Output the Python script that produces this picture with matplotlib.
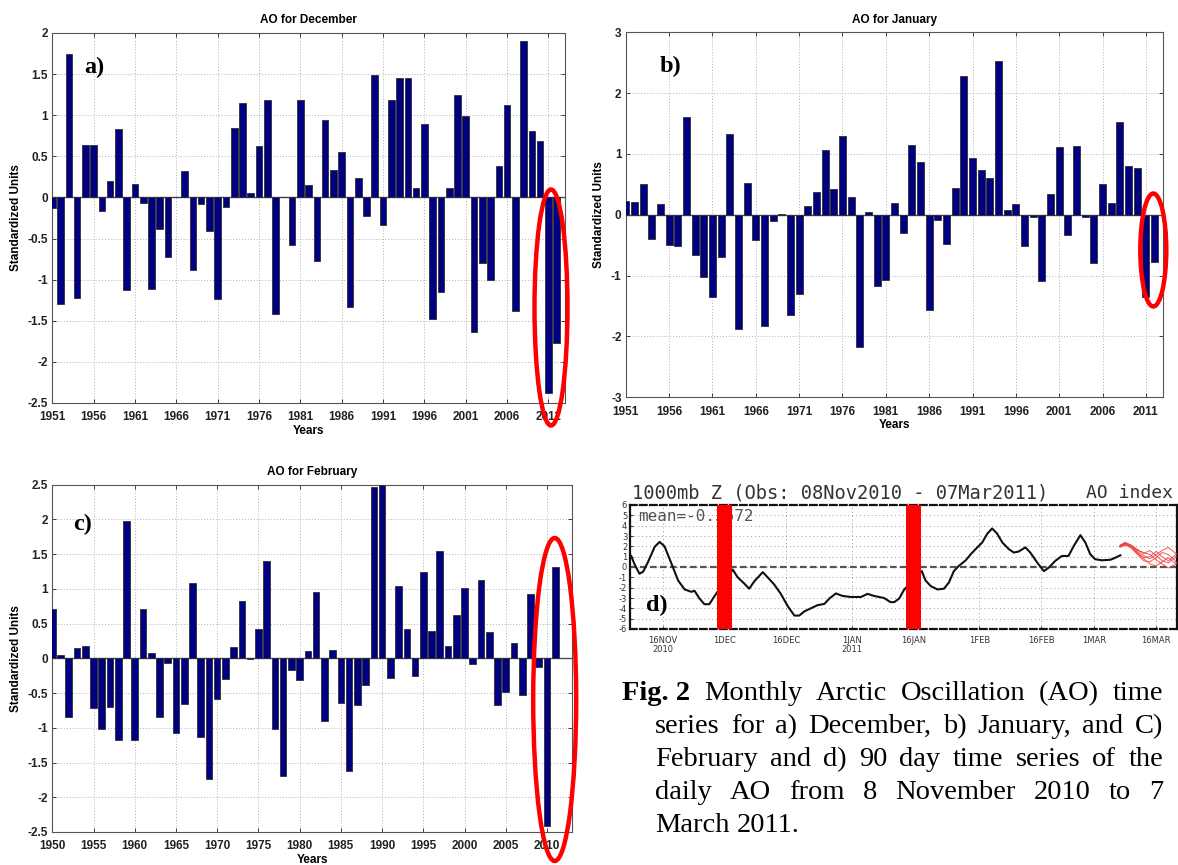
import numpy as np
import pandas as pd
import matplotlib
matplotlib.use('Agg')
import matplotlib.pyplot as plt
from matplotlib.patches import Ellipse
from matplotlib.transforms import IdentityTransform

W, H = 1178, 865
plt.rcParams['font.family'] = 'Liberation Sans'
plt.rcParams['axes.unicode_minus'] = False

# monthly AO index
dec_years = list(range(1951, 2013))
dec_vals = [-0.13, -1.30, 1.74, -1.22, 0.64, 0.64, -0.16, 0.20, 0.83, -1.13,
            0.16, -0.07, -1.11, -0.38, -0.73, 0.00, 0.32, -0.88, -0.08, -0.41,
            -1.24, -0.12, 0.84, 1.15, 0.05, 0.63, 1.19, -1.42, 0.00, -0.58,
            1.19, 0.15, -0.77, 0.94, 0.33, 0.55, -1.33, 0.24, -0.23, 1.49,
            -0.34, 1.19, 1.45, 1.45, 0.11, 0.89, -1.48, -1.15, 0.12, 1.24,
            0.99, -1.64, -0.80, -1.01, 0.38, 1.12, -1.38, 1.90, 0.81, 0.69,
            -2.38, -1.77]

jan_years = list(range(1951, 2013))
jan_vals = [0.23, 0.21, 0.51, -0.39, 0.17, -0.50, -0.51, 1.60, -0.66, -1.03,
            -1.35, -0.70, 1.32, -1.88, 0.52, -0.41, -1.83, -0.10, 0.02, -1.65,
            -1.30, 0.15, 0.38, 1.07, 0.42, 1.30, 0.29, -2.17, 0.04, -1.17,
            -1.07, 0.19, -0.30, 1.15, 0.86, -1.56, -0.09, -0.48, 0.44, 2.28,
            0.93, 0.74, 0.61, 2.53, 0.08, 0.17, -0.51, -0.04, -1.08, 0.34,
            1.11, -0.33, 1.13, -0.04, -0.79, 0.51, 0.19, 1.53, 0.80, 0.77,
            -1.35, -0.77]

feb_years = list(range(1950, 2012))
feb_vals = [0.71, 0.05, -0.84, 0.15, 0.18, -0.71, -1.02, -0.70, -1.18, 1.98,
            -1.18, 0.71, 0.07, -0.84, -0.07, -1.07, -0.66, 1.08, -1.13, -1.74,
            -0.58, -0.30, 0.17, 0.83, -0.01, 0.42, 1.40, -1.02, -1.70, -0.17,
            -0.31, 0.10, 0.95, -0.90, 0.12, -0.64, -1.62, -0.67, -0.39, 2.46,
            2.50, -0.28, 1.04, 0.42, -0.26, 1.24, 0.40, 1.55, 0.18, 0.63,
            1.01, -0.08, 1.13, 0.38, -0.67, -0.49, 0.22, -0.53, 0.92, -0.12,
            -2.41, 1.31]

# daily AO, days after 08 Nov 2010
ao_days = [0.3, 1.1, 2.3, 3.2, 4.4, 6.0, 7.2, 8.4, 10.0, 11.7, 13.3, 14.9, 15.7,
           16.9, 18.1, 19.3, 20.6, 25.0, 26.2, 27.8, 29.0, 30.3, 32.3, 33.5,
           35.1, 36.7, 38.4, 40.0, 41.2, 42.4, 44.0, 45.6, 47.3, 48.5, 50.1,
           51.7, 53.7, 56.2, 57.8, 59.4, 61.8, 63.4, 64.3, 65.5, 66.7, 71.0,
           71.9, 73.2, 74.8, 76.4, 77.6, 78.8, 80.0, 81.7, 82.9, 84.5, 85.7,
           86.9, 88.1, 89.3, 90.6, 92.2, 93.4, 94.6, 96.2, 97.4, 99.1, 100.7,
           101.9, 103.5, 105.1, 106.7, 108.0, 109.6, 110.8, 112.0, 113.2,
           114.8, 116.9, 118.1, 119.3]
ao_vals = [1.07, 0.26, -0.65, -0.45, 0.5, 1.95, 2.43, 2.0, 0.42, -1.3, -2.17,
           -2.4, -2.3, -3.05, -3.6, -3.6, -2.8, -0.25, -1.0, -1.6, -2.1, -1.36,
           -0.5, -1.0, -1.7, -2.6, -3.8, -4.7, -4.7, -4.3, -4.0, -3.7, -3.57,
           -3.05, -2.56, -2.8, -2.9, -2.9, -2.6, -2.8, -3.0, -3.4, -3.4, -3.05,
           -2.2, -0.4, -1.3, -1.85, -2.17, -2.1, -1.5, -0.4, 0.1, 0.65, 1.23,
           1.9, 2.37, 3.2, 3.73, 3.25, 2.37, 1.72, 1.4, 1.5, 1.9, 1.4, 0.42,
           -0.4, -0.06, 0.6, 1.07, 1.07, 2.05, 3.08, 2.37, 1.23, 0.75, 0.65,
           0.7, 0.9, 1.13]

# forecast members (red)
fc_days = [119.2, 120.5, 122.0, 123.5, 125.0, 126.5, 128.0, 129.5, 131.0, 132.5, 134.0]
fc_members = [
    [2.0, 2.3, 2.1, 1.5, 1.1, 0.8, 1.2, 1.6, 1.9, 1.4, 1.0],
    [2.0, 2.2, 1.9, 1.3, 0.8, 0.3, 0.1, 0.5, 0.9, 0.4, 0.2],
    [2.1, 2.3, 2.0, 1.6, 1.4, 1.2, 0.7, 0.3, -0.1, 0.2, 0.6],
    [1.9, 2.1, 2.0, 1.4, 0.9, 1.0, 1.5, 1.0, 0.6, 1.1, 1.5],
    [2.0, 2.2, 1.8, 1.2, 0.6, 0.5, 0.9, 1.4, 1.2, 0.7, -0.2],
    [2.1, 2.4, 2.1, 1.7, 1.3, 1.6, 1.1, 0.6, 0.4, 0.9, 1.2],
]

d_start = pd.Timestamp('2010-11-08')
d_tick_dates = ['2010-11-16', '2010-12-01', '2010-12-16', '2011-01-01', '2011-01-16',
                '2011-02-01', '2011-02-16', '2011-03-01', '2011-03-16']
d_tick_labels = ['16NOV\n2010', '1DEC', '16DEC', '1JAN\n2011', '16JAN',
                 '1FEB', '16FEB', '1MAR', '16MAR']
marked_dates = ['2010-12-01', '2011-01-16']

caption = [
    ['Fig. 2', 'Monthly', 'Arctic', 'Oscillation', '(AO)', 'time'],
    ['series', 'for', 'a)', 'December,', 'b)', 'January,', 'and', 'C)'],
    ['February', 'and', 'd)', '90', 'day', 'time', 'series', 'of', 'the'],
    ['daily', 'AO', 'from', '8', 'November', '2010', 'to', '7'],
    ['March', '2011.'],
]


def rect(l, t, r, b):
    return [l / W, 1 - b / H, (r - l) / W, (b - t) / H]


fig = plt.figure(figsize=(W / 100, H / 100), dpi=100)


def bar_panel(box, years, vals, xlim, xticks, ylim, yticks, title):
    ax = fig.add_axes(rect(*box))
    ax.bar(years, vals, width=0.8, color='#000080', edgecolor='#303030', linewidth=0.6, zorder=3)
    ax.axhline(0, color='#505050', lw=1.0, zorder=2)
    ax.set_xlim(*xlim)
    ax.set_ylim(*ylim)
    ax.set_xticks(xticks)
    ax.set_yticks(yticks)
    ax.set_yticklabels(['%g' % v for v in yticks])
    ax.grid(True, color='#b0b0b0', ls=(0, (1, 2)), lw=0.7, zorder=0)
    ax.tick_params(direction='in', length=3, width=0.6, top=True, right=True,
                   labelsize=8.5, pad=3, colors='#222222')
    ax.tick_params(axis='x', pad=6)
    for lab in ax.get_xticklabels() + ax.get_yticklabels():
        lab.set_fontweight('bold')
    ax.set_title(title, fontsize=8.5, fontweight='bold', pad=7)
    ax.set_xlabel('Years', fontsize=8.5, fontweight='bold', labelpad=1)
    ax.set_ylabel('Standardized Units', fontsize=8.5, fontweight='bold', labelpad=4)
    for s in ax.spines.values():
        s.set_color('#555555')
        s.set_linewidth(0.8)
    return ax


bar_panel((52.3, 33, 565, 403), dec_years, dec_vals, (1951, 2013), range(1951, 2012, 5),
          (-2.5, 2), np.arange(-2.5, 2.01, 0.5), 'AO for December')
bar_panel((625.7, 32.3, 1163.3, 397.3), jan_years, jan_vals, (1951, 2013), range(1951, 2012, 5),
          (-3, 3), np.arange(-3, 3.01, 1), 'AO for January')
bar_panel((52.3, 484.7, 571.7, 832), feb_years, feb_vals, (1950, 2013), range(1950, 2011, 5),
          (-2.5, 2.5), np.arange(-2.5, 2.51, 0.5), 'AO for February')

# panel d: daily AO
axd = fig.add_axes(rect(630, 505, 1177, 629))
axd.plot(ao_days, ao_vals, color='#111111', lw=1.5, zorder=3)
for m in fc_members:
    axd.plot(fc_days, m, color='#ee3b3b', lw=0.7, alpha=0.85, zorder=3)
axd.axhline(0, color='#555555', lw=1.6, ls=(0, (3, 1.5)), zorder=2)
for md in marked_dates:
    c = (pd.Timestamp(md) - d_start).days
    axd.axvspan(c - 1.9, c + 1.9, color='#ff0000', lw=0, zorder=5)
axd.set_xlim(0, 133.1)
axd.set_ylim(-6, 6)
axd.set_yticks(range(-6, 7))
axd.set_yticklabels([str(v) for v in range(-6, 7)])
axd.set_xticks([(pd.Timestamp(t) - d_start).days for t in d_tick_dates])
axd.set_xticklabels(d_tick_labels, linespacing=1.0)
axd.grid(True, color='#999999', ls=(0, (1, 3)), lw=0.7, zorder=0)
axd.tick_params(direction='in', length=2, width=0.8, labelsize=6, pad=2, colors='#333333')
for lab in axd.get_xticklabels() + axd.get_yticklabels():
    lab.set_family('DejaVu Sans')
axd.tick_params(axis='x', labelsize=6, pad=5)
for side in ['top', 'bottom']:
    axd.spines[side].set_linestyle((0, (3, 1.5)))
for s in axd.spines.values():
    s.set_color('#111111')
    s.set_linewidth(1.6)
axd.text(8 / 547, 0.906, 'mean=-0.3572', transform=axd.transAxes, va='center', ha='left',
         family='DejaVu Sans Mono', fontsize=11.5, color='#555555', zorder=4)

fig.text(632 / W, 1 - 493 / H, '1000mb Z (Obs: 08Nov2010 - 07Mar2011)', ha='left', va='center',
         family='DejaVu Sans Mono', fontsize=13.5, color='#333333')
fig.text(1173 / W, 1 - 493 / H, 'AO index', ha='right', va='center',
         family='DejaVu Sans Mono', fontsize=13, color='#333333')

# panel letters
for lab, x, y in [('a)', 94, 67), ('b)', 671, 66), ('c)', 83, 524), ('d)', 657, 605)]:
    fig.text(x / W, 1 - y / H, lab, ha='center', va='center', family='Liberation Serif',
             fontweight='bold', fontsize=17.5, zorder=10)

# red ellipses
for cx, cy, w, h in [(551, 307.5, 33, 236), (1153.3, 250, 26, 113), (554.7, 699.5, 43, 323)]:
    fig.add_artist(Ellipse((cx / W, 1 - cy / H), w / W, h / H, transform=fig.transFigure,
                           fill=False, edgecolor='#ff0000', lw=3.2, zorder=20))

# justified caption
renderer = fig.canvas.get_renderer()
cap_size = 20.5
line_y = [700, 733, 766, 799, 832]
for i, words in enumerate(caption):
    x0 = 622 if i == 0 else 655
    x1 = 1163
    texts = []
    for j, w in enumerate(words):
        bold = (i == 0 and j == 0)
        t = fig.text(0, 0, w, transform=IdentityTransform(), family='Liberation Serif',
                     fontsize=cap_size, fontweight='bold' if bold else 'normal',
                     va='baseline', ha='left')
        texts.append(t)
    widths = [t.get_window_extent(renderer).width for t in texts]
    if i == len(caption) - 1:
        gap = cap_size * 0.25 * 100 / 72
    else:
        gap = (x1 - x0 - sum(widths)) / (len(words) - 1)
    x = x0
    for t, wd in zip(texts, widths):
        t.set_position((x, H - line_y[i]))
        x += wd + gap

fig.savefig('out.png', dpi=100)
